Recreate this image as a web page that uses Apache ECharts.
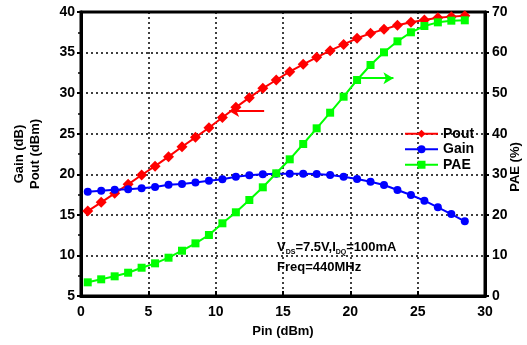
<!DOCTYPE html>
<html>
<head>
<meta charset="utf-8">
<script src="https://cdn.jsdelivr.net/npm/echarts@6/dist/echarts.min.js"></script>
<style>
  html, body { margin: 0; padding: 0; background: #fff; }
  #chart { width: 527px; height: 345px; }
</style>
</head>
<body>
<div id="chart"></div>
<script>
// Input drive levels (dBm)
const pin = [0.5, 1.5, 2.5, 3.5, 4.5, 5.5, 6.5, 7.5, 8.5, 9.5, 10.5, 11.5, 12.5, 13.5, 14.5,
             15.5, 16.5, 17.5, 18.5, 19.5, 20.5, 21.5, 22.5, 23.5, 24.5, 25.5, 26.5, 27.5, 28.5];
// Output power (dBm)
const pout = [15.47, 16.54, 17.65, 18.76, 19.91, 21.0, 22.17, 23.4, 24.55, 25.74, 27.0, 28.25, 29.44, 30.59, 31.62,
              32.64, 33.55, 34.41, 35.23, 36.0, 36.76, 37.37, 37.86, 38.36, 38.73, 39.01, 39.3, 39.43, 39.55];
// Gain (dB)
const gain = [17.86, 17.98, 18.1, 18.15, 18.27, 18.43, 18.72, 18.8, 19.0, 19.21, 19.38, 19.7, 19.87, 19.99, 20.07,
              20.07, 20.07, 20.03, 19.91, 19.7, 19.42, 19.09, 18.68, 18.06, 17.45, 16.75, 15.93, 15.1, 14.2];
// Power-added efficiency (%)
const pae = [3.37, 4.11, 4.85, 5.74, 6.97, 8.05, 9.44, 11.16, 12.98, 15.03, 17.92, 20.63, 23.66, 26.79, 30.24,
             33.69, 37.46, 41.33, 45.18, 49.12, 53.24, 56.94, 60.06, 62.77, 65.0, 66.55, 67.45, 67.86, 67.95];

// Axis ranges
const xTicks = { min: 0, max: 30, step: 5 };
const leftTicks = { min: 5, max: 40, step: 5 };
const rightTicks = { min: 0, max: 70, step: 10 };

// Arrow annotations pointing each curve at its axis
const poutArrow = { from: [13.6, 27.8], to: [11.0, 27.8] };
const paeArrow = { from: [20.8, 53.7], to: [23.2, 53.7] };

const FONT = '"Liberation Sans", Arial, sans-serif';
const pairs = ys => pin.map((x, i) => [x, ys[i]]);

const axisLineStyle = { color: '#000', width: 3 };
const gridLine = { show: true, lineStyle: { color: '#000', type: [2, 3], width: 1.5 } };
const tickLabel = { color: '#000', fontFamily: FONT, fontWeight: 'bold', fontSize: 14 };
const nameStyle = { color: '#000', fontFamily: FONT, fontWeight: 'bold', fontSize: 13 };

const chart = echarts.init(document.getElementById('chart'), null, { renderer: 'canvas' });

chart.setOption({
  animation: false,
  backgroundColor: '#fff',
  grid: {
    left: 81, right: 42, top: 12, bottom: 49,
    outerBoundsMode: 'none', containLabel: false,
    show: true, borderColor: '#000', borderWidth: 3
  },
  legend: {
    orient: 'vertical',
    left: 399, top: 121,
    itemWidth: 33, itemHeight: 10, itemGap: 0,
    textStyle: { color: '#000', fontFamily: FONT, fontWeight: 'bold', fontSize: 14, lineHeight: 15.5 },
    data: ['Pout', 'Gain', 'PAE']
  },
  xAxis: {
    type: 'value', min: xTicks.min, max: xTicks.max, interval: xTicks.step,
    name: 'Pin (dBm)', nameLocation: 'middle', nameGap: 29, nameTextStyle: nameStyle,
    axisLine: { onZero: false, lineStyle: axisLineStyle },
    axisTick: { inside: true, length: 5, lineStyle: { color: '#000', width: 2 } },
    axisLabel: Object.assign({ margin: 9 }, tickLabel),
    splitLine: gridLine
  },
  yAxis: [{
    type: 'value', min: leftTicks.min, max: leftTicks.max, interval: leftTicks.step,
    name: 'Gain (dB)\nPout (dBm)', nameLocation: 'middle', nameRotate: 90, nameGap: 38,
    nameTextStyle: Object.assign({ lineHeight: 16 }, nameStyle),
    axisLine: { onZero: false, lineStyle: axisLineStyle },
    axisTick: { inside: false, length: 4, lineStyle: { color: '#000', width: 2 } },
    minorTick: { show: true, splitNumber: 2, length: 3, lineStyle: { color: '#000', width: 1.5 } },
    axisLabel: Object.assign({ margin: 6 }, tickLabel),
    splitLine: gridLine
  }, {
    type: 'value', min: rightTicks.min, max: rightTicks.max, interval: rightTicks.step,
    name: 'PAE (%)', nameLocation: 'middle', nameRotate: 90, nameGap: 24, nameMoveOverlap: false,
    nameTextStyle: Object.assign({ padding: [0, 26, 0, 0] }, nameStyle),
    axisLine: { onZero: false, lineStyle: axisLineStyle },
    axisTick: { inside: false, length: 4, lineStyle: { color: '#000', width: 2 } },
    axisLabel: Object.assign({ margin: 7 }, tickLabel),
    splitLine: { show: false }
  }],
  series: [{
    name: 'Pout', type: 'line', yAxisIndex: 0, data: pairs(pout),
    color: '#ff0000', symbol: 'diamond', symbolSize: 11,
    lineStyle: { width: 2 },
    markLine: {
      silent: true, symbolSize: [9, 10],
      lineStyle: { color: '#ff0000', width: 2, type: 'solid' },
      label: { show: false },
      data: [[{ coord: poutArrow.from, symbol: 'none' }, { coord: poutArrow.to, symbol: 'arrow' }]]
    }
  }, {
    name: 'Gain', type: 'line', yAxisIndex: 0, data: pairs(gain),
    color: '#0000ff', symbol: 'circle', symbolSize: 8,
    lineStyle: { width: 2 }
  }, {
    name: 'PAE', type: 'line', yAxisIndex: 1, data: pairs(pae),
    color: '#00ff00', symbol: 'rect', symbolSize: 8,
    lineStyle: { width: 2 },
    markLine: {
      silent: true, symbolSize: [9, 10],
      lineStyle: { color: '#00ff00', width: 2, type: 'solid' },
      label: { show: false },
      data: [[{ coord: paeArrow.from, symbol: 'none' }, { coord: paeArrow.to, symbol: 'arrow' }]]
    }
  }],
  graphic: [{
    type: 'text', left: 277, top: 241,
    style: {
      text: '{b|V}{s|DS}{b|=7.5V,I}{s|DQ}{b|=100mA}',
      rich: {
        b: { fontFamily: FONT, fontWeight: 'bold', fontSize: 13, fill: '#000', verticalAlign: 'bottom' },
        s: { fontFamily: FONT, fontWeight: 'bold', fontSize: 7, fill: '#000', verticalAlign: 'bottom', padding: [0, 0, -2, 0] }
      }
    }
  }, {
    type: 'text', left: 277, top: 261,
    style: { text: 'Freq=440MHz', fontFamily: FONT, fontWeight: 'bold', fontSize: 13, fill: '#000' }
  }]
});
</script>
</body>
</html>
